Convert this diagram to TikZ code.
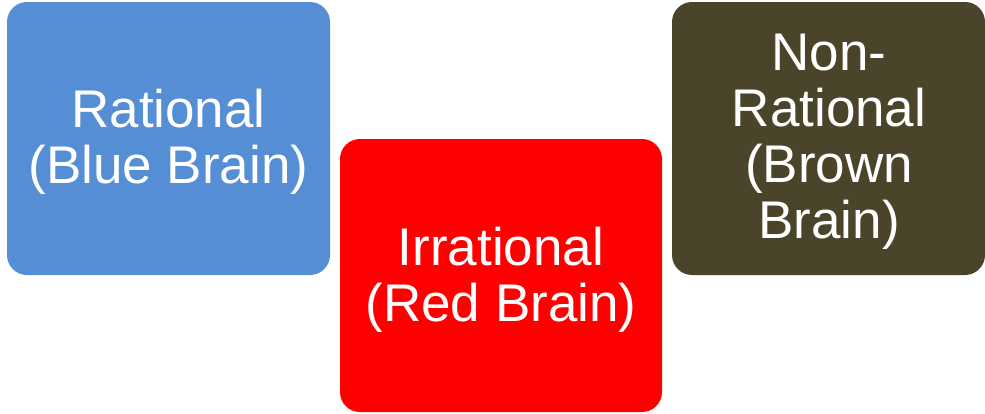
\documentclass[tikz,border=0pt]{standalone}
\usepackage{fontspec}
\setmainfont{Liberation Sans}
\definecolor{bluebrain}{HTML}{558ED5}
\definecolor{redbrain}{HTML}{FF0000}
\definecolor{brownbrain}{HTML}{4A452A}
\begin{document}
\begin{tikzpicture}[x=1pt,y=-1pt,
  brainbox/.style={rounded corners=20pt, inner sep=0pt},
  braintext/.style={text=white, align=center, font=\fontsize{53}{56}\selectfont}]
\useasboundingbox (0,0) rectangle (985,413);
\fill[bluebrain, brainbox] (7,2) rectangle (330,275);
\fill[redbrain, brainbox] (340,139) rectangle (662,412);
\fill[brownbrain, brainbox] (672,2) rectangle (985,275);
\node[braintext] (blue) at (168.5,142) {Rational\\(Blue Brain)};
\node[braintext] (red) at (501,280) {Irrational\\(Red Brain)};
\node[braintext] (brown) at (829,142) {Non-\\Rational\\(Brown\\Brain)};
\end{tikzpicture}
\end{document}
